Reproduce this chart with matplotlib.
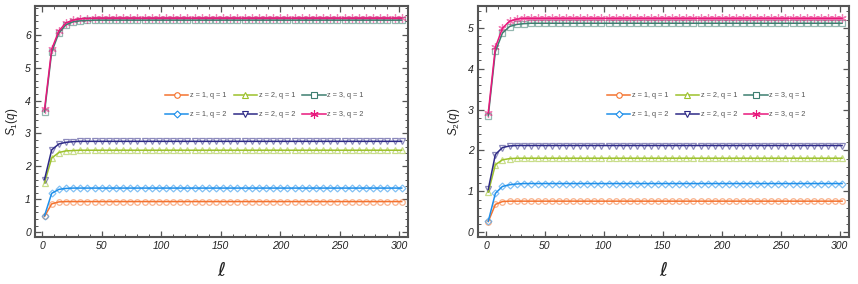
import matplotlib
matplotlib.use('Agg')
import matplotlib.pyplot as plt
from matplotlib.lines import Line2D
from matplotlib.ticker import MultipleLocator

plt.rcParams['font.family'] = ['Liberation Sans', 'DejaVu Sans']
plt.rcParams['mathtext.fontset'] = 'custom'
plt.rcParams['mathtext.it'] = 'Liberation Sans:italic'
plt.rcParams['mathtext.rm'] = 'Liberation Sans'

# subsystem size
ell = [2, 8, 14, 20, 26, 32, 38, 44, 50, 56, 62, 68, 74, 80, 86, 92, 98,
       104, 110, 116, 122, 128, 134, 140, 146, 152, 158, 164, 170, 176, 182, 188, 194,
       200, 206, 212, 218, 224, 230, 236, 242, 248, 254, 260, 266, 272, 278, 284, 290,
       296, 302]

# S_1(q) panel
s1_z1q1 = [0.48, 0.86, 0.92, 0.93, 0.93, 0.93, 0.93, 0.93, 0.93, 0.93, 0.93, 0.93, 0.93, 0.93, 0.93, 0.93, 0.93,
           0.93, 0.93, 0.93, 0.93, 0.93, 0.93, 0.93, 0.93, 0.93, 0.93, 0.93, 0.93, 0.93, 0.93, 0.93, 0.93,
           0.93, 0.93, 0.93, 0.93, 0.93, 0.93, 0.93, 0.93, 0.93, 0.93, 0.93, 0.93, 0.93, 0.93, 0.93, 0.93,
           0.93, 0.93]
s1_z1q2 = [0.50, 1.18, 1.30, 1.33, 1.34, 1.34, 1.34, 1.34, 1.34, 1.34, 1.34, 1.34, 1.34, 1.34, 1.34, 1.34, 1.34,
           1.34, 1.34, 1.34, 1.34, 1.34, 1.34, 1.34, 1.34, 1.34, 1.34, 1.34, 1.34, 1.34, 1.34, 1.34, 1.34,
           1.34, 1.34, 1.34, 1.34, 1.34, 1.34, 1.34, 1.34, 1.34, 1.34, 1.34, 1.34, 1.34, 1.34, 1.34, 1.34,
           1.34, 1.34]
s1_z2q1 = [1.50, 2.25, 2.42, 2.47, 2.48, 2.49, 2.49, 2.49, 2.49, 2.49, 2.49, 2.49, 2.49, 2.49, 2.49, 2.49, 2.49,
           2.49, 2.49, 2.49, 2.49, 2.49, 2.49, 2.49, 2.49, 2.49, 2.49, 2.49, 2.49, 2.49, 2.49, 2.49, 2.49,
           2.49, 2.49, 2.49, 2.49, 2.49, 2.49, 2.49, 2.49, 2.49, 2.49, 2.49, 2.49, 2.49, 2.49, 2.49, 2.49,
           2.49, 2.49]
s1_z2q2 = [1.60, 2.50, 2.68, 2.73, 2.75, 2.76, 2.76, 2.76, 2.76, 2.76, 2.76, 2.76, 2.76, 2.76, 2.76, 2.76, 2.76,
           2.76, 2.76, 2.76, 2.76, 2.76, 2.76, 2.76, 2.76, 2.76, 2.76, 2.76, 2.76, 2.76, 2.76, 2.76, 2.76,
           2.76, 2.76, 2.76, 2.76, 2.76, 2.76, 2.76, 2.76, 2.76, 2.76, 2.76, 2.76, 2.76, 2.76, 2.76, 2.76,
           2.76, 2.76]
s1_z3q1 = [3.65, 5.47, 6.05, 6.30, 6.39, 6.42, 6.43, 6.44, 6.44, 6.44, 6.44, 6.44, 6.44, 6.44, 6.44, 6.44, 6.44,
           6.44, 6.44, 6.44, 6.44, 6.44, 6.44, 6.44, 6.44, 6.44, 6.44, 6.44, 6.44, 6.44, 6.44, 6.44, 6.44,
           6.44, 6.44, 6.44, 6.44, 6.44, 6.44, 6.44, 6.44, 6.44, 6.44, 6.44, 6.44, 6.44, 6.44, 6.44, 6.44,
           6.44, 6.44]
s1_z3q2 = [3.73, 5.56, 6.11, 6.36, 6.44, 6.48, 6.49, 6.50, 6.50, 6.50, 6.50, 6.50, 6.50, 6.50, 6.50, 6.50, 6.50,
           6.50, 6.50, 6.50, 6.50, 6.50, 6.50, 6.50, 6.50, 6.50, 6.50, 6.50, 6.50, 6.50, 6.50, 6.50, 6.50,
           6.50, 6.50, 6.50, 6.50, 6.50, 6.50, 6.50, 6.50, 6.50, 6.50, 6.50, 6.50, 6.50, 6.50, 6.50, 6.50,
           6.50, 6.50]

# S_2(q) panel
s2_z1q1 = [0.26, 0.68, 0.75, 0.76, 0.76, 0.76, 0.76, 0.76, 0.76, 0.76, 0.76, 0.76, 0.76, 0.76, 0.76, 0.76, 0.76,
           0.76, 0.76, 0.76, 0.76, 0.76, 0.76, 0.76, 0.76, 0.76, 0.76, 0.76, 0.76, 0.76, 0.76, 0.76, 0.76,
           0.76, 0.76, 0.76, 0.76, 0.76, 0.76, 0.76, 0.76, 0.76, 0.76, 0.76, 0.76, 0.76, 0.76, 0.76, 0.76,
           0.76, 0.76]
s2_z1q2 = [0.27, 0.95, 1.12, 1.16, 1.18, 1.19, 1.19, 1.19, 1.19, 1.19, 1.19, 1.19, 1.19, 1.19, 1.19, 1.19, 1.19,
           1.19, 1.19, 1.19, 1.19, 1.19, 1.19, 1.19, 1.19, 1.19, 1.19, 1.19, 1.19, 1.19, 1.19, 1.19, 1.19,
           1.19, 1.19, 1.19, 1.19, 1.19, 1.19, 1.19, 1.19, 1.19, 1.19, 1.19, 1.19, 1.19, 1.19, 1.19, 1.19,
           1.19, 1.19]
s2_z2q1 = [0.98, 1.65, 1.77, 1.80, 1.81, 1.81, 1.81, 1.81, 1.81, 1.81, 1.81, 1.81, 1.81, 1.81, 1.81, 1.81, 1.81,
           1.81, 1.81, 1.81, 1.81, 1.81, 1.81, 1.81, 1.81, 1.81, 1.81, 1.81, 1.81, 1.81, 1.81, 1.81, 1.81,
           1.81, 1.81, 1.81, 1.81, 1.81, 1.81, 1.81, 1.81, 1.81, 1.81, 1.81, 1.81, 1.81, 1.81, 1.81, 1.81,
           1.81, 1.81]
s2_z2q2 = [1.05, 1.90, 2.07, 2.11, 2.12, 2.12, 2.12, 2.12, 2.12, 2.12, 2.12, 2.12, 2.12, 2.12, 2.12, 2.12, 2.12,
           2.12, 2.12, 2.12, 2.12, 2.12, 2.12, 2.12, 2.12, 2.12, 2.12, 2.12, 2.12, 2.12, 2.12, 2.12, 2.12,
           2.12, 2.12, 2.12, 2.12, 2.12, 2.12, 2.12, 2.12, 2.12, 2.12, 2.12, 2.12, 2.12, 2.12, 2.12, 2.12,
           2.12, 2.12]
s2_z3q1 = [2.85, 4.42, 4.87, 5.03, 5.08, 5.10, 5.11, 5.11, 5.11, 5.11, 5.11, 5.11, 5.11, 5.11, 5.11, 5.11, 5.11,
           5.11, 5.11, 5.11, 5.11, 5.11, 5.11, 5.11, 5.11, 5.11, 5.11, 5.11, 5.11, 5.11, 5.11, 5.11, 5.11,
           5.11, 5.11, 5.11, 5.11, 5.11, 5.11, 5.11, 5.11, 5.11, 5.11, 5.11, 5.11, 5.11, 5.11, 5.11, 5.11,
           5.11, 5.11]
s2_z3q2 = [2.92, 4.52, 4.99, 5.16, 5.21, 5.23, 5.23, 5.23, 5.23, 5.23, 5.23, 5.23, 5.23, 5.23, 5.23, 5.23, 5.23,
           5.23, 5.23, 5.23, 5.23, 5.23, 5.23, 5.23, 5.23, 5.23, 5.23, 5.23, 5.23, 5.23, 5.23, 5.23, 5.23,
           5.23, 5.23, 5.23, 5.23, 5.23, 5.23, 5.23, 5.23, 5.23, 5.23, 5.23, 5.23, 5.23, 5.23, 5.23, 5.23,
           5.23, 5.23]

labels = ['z = 1, q = 1', 'z = 1, q = 2', 'z = 2, q = 1',
          'z = 2, q = 2', 'z = 3, q = 1', 'z = 3, q = 2']
colors = ['#F4732F', '#1E8FEA', '#9CC12B', '#2E2A86', '#3D7E70', '#E8187C']
markers = ['o', 'D', '^', 'v', 's', (6, 2, 0)]
msizes = [4, 3.5, 4.5, 4.5, 3.8, 6]

panels = [
    ([s1_z1q1, s1_z1q2, s1_z2q1, s1_z2q2, s1_z3q1, s1_z3q2], r'$S_1(q)$', (-0.15, 6.88), (-6, 307.5)),
    ([s2_z1q1, s2_z1q2, s2_z2q1, s2_z2q2, s2_z3q1, s2_z3q2], r'$S_2(q)$', (-0.12, 5.54), (-6.8, 307.5)),
]

fig = plt.figure(figsize=(8.58, 2.84), dpi=100)
ax_pos = [[0.0408, 0.165, 0.435, 0.815], [0.557, 0.165, 0.432, 0.815]]

for k, (series, ylab, ylim, xlim) in enumerate(panels):
    ax = fig.add_axes(ax_pos[k])
    handles = []
    for y, lab, c, m, ms in zip(series, labels, colors, markers, msizes):
        ax.plot(ell, y, linestyle='none', marker=m, markersize=ms, mfc='none',
                mec=c, mew=0.9, alpha=0.55, zorder=2)
        ax.plot(ell, y, color=c, lw=1.1, zorder=3)
        handles.append(Line2D([], [], color=c, lw=1.1, marker=m, markersize=ms,
                              mfc='white', mec=c, mew=0.8))
    ax.set_xlim(*xlim)
    ax.set_ylim(*ylim)
    ax.xaxis.set_major_locator(MultipleLocator(50))
    ax.xaxis.set_minor_locator(MultipleLocator(10))
    ax.yaxis.set_major_locator(MultipleLocator(1))
    ax.yaxis.set_minor_locator(MultipleLocator(0.2))
    ax.tick_params(which='both', direction='in', top=True, right=True,
                   color='#555555', labelsize=7.5, labelcolor='#222222', pad=3)
    ax.tick_params(which='major', length=4, width=0.9)
    ax.tick_params(which='minor', length=2.3, width=0.7)
    for lbl in ax.get_xticklabels() + ax.get_yticklabels():
        lbl.set_fontstyle('italic')
    for sp in ax.spines.values():
        sp.set_color('#555555')
        sp.set_linewidth(1.5)
    ax.set_ylabel(ylab, fontsize=8.5, labelpad=4, color='#222222')
    ax.set_xlabel('ℓ', fontsize=14, fontstyle='italic', family='DejaVu Sans',
                  labelpad=7, color='#222222')
    ax.legend(handles, labels, ncol=3, loc='center left',
              bbox_to_anchor=(0.33, 0.57), frameon=False, fontsize=5.3,
              labelcolor='#555555', handlelength=3.2, handletextpad=0.2,
              columnspacing=1.0, labelspacing=1.6, numpoints=1)

fig.savefig('out.png', dpi=100)
